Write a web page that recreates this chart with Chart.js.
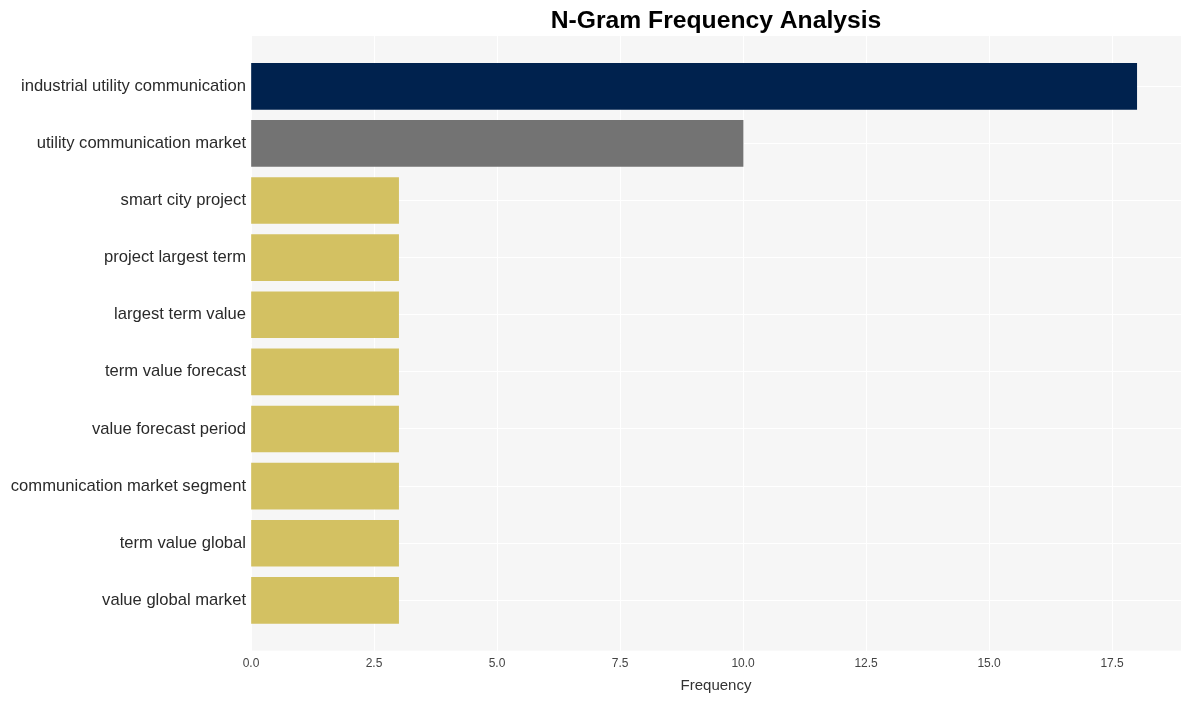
<!DOCTYPE html>
<html>
<head>
<meta charset="utf-8">
<script src="https://cdn.jsdelivr.net/npm/chart.js@4/dist/chart.umd.min.js"></script>
<style>
  html, body { margin: 0; padding: 0; background: #fff; }
  #wrap { width: 1191px; height: 701px; }
</style>
</head>
<body>
<div id="wrap"><canvas id="ngramChart" width="1191" height="701"></canvas></div>
<script>
const labels = [
  'industrial utility communication',
  'utility communication market',
  'smart city project',
  'project largest term',
  'largest term value',
  'term value forecast',
  'value forecast period',
  'communication market segment',
  'term value global',
  'value global market'
];
const counts = [18, 10, 3, 3, 3, 3, 3, 3, 3, 3];
const barColors = ['#00224e', '#737373', '#d3c162', '#d3c162', '#d3c162',
  '#d3c162', '#d3c162', '#d3c162', '#d3c162', '#d3c162'];

const plotBg = {
  id: 'plotBg',
  beforeDraw(chart) {
    const { ctx, chartArea: a } = chart;
    ctx.save();
    ctx.fillStyle = '#f6f6f6';
    ctx.fillRect(a.left, a.top, a.right - a.left, a.bottom - a.top);
    ctx.restore();
  }
};

const ctx = document.getElementById('ngramChart');

new Chart(ctx, {
  type: 'bar',
  data: {
    datasets: [{
      data: counts.map((v, i) => ({ x: v, y: i })),
      backgroundColor: barColors,
      borderWidth: 0,
      barThickness: 46,
    }]
  },
  options: {
    indexAxis: 'y',
    responsive: false,
    animation: false,
    layout: { padding: { left: 0, right: 10, top: 0, bottom: 6 } },
    plugins: {
      legend: { display: false },
      tooltip: { enabled: false },
      title: {
        display: true,
        text: 'N-Gram Frequency Analysis',
        fullSize: false,
        color: '#000',
        font: { family: 'Liberation Sans, Arial, sans-serif', size: 24.7, weight: 'bold' },
        padding: { top: 6, bottom: 0.4 }
      }
    },
    scales: {
      x: {
        type: 'linear',
        min: 0,
        max: 18.9,
        ticks: {
          stepSize: 2.5,
          includeBounds: false,
          padding: 6,
          color: '#444',
          font: { family: 'Liberation Sans, Arial, sans-serif', size: 12 },
          callback: v => v.toFixed(1)
        },
        grid: { color: '#ffffff', lineWidth: 1, drawTicks: false },
        border: { display: false },
        title: {
          display: true,
          text: 'Frequency',
          color: '#333',
          font: { family: 'Liberation Sans, Arial, sans-serif', size: 15 },
          padding: { top: 0, bottom: 0 }
        }
      },
      y: {
        type: 'linear',
        reverse: true,
        offset: false,
        min: -0.88,
        max: 9.88,
        afterFit(scale) { scale.width = 251; },
        ticks: {
          stepSize: 1,
          includeBounds: false,
          autoSkip: false,
          padding: 5,
          color: '#2a2a2a',
          font: { family: 'Liberation Sans, Arial, sans-serif', size: 16.6 },
          callback: v => (Number.isInteger(v) && labels[v] !== undefined) ? labels[v] : ''
        },
        grid: { color: '#ffffff', lineWidth: 1, drawTicks: false, offset: false },
        border: { display: false }
      }
    }
  },
  plugins: [plotBg]
});
</script>
</body>
</html>
